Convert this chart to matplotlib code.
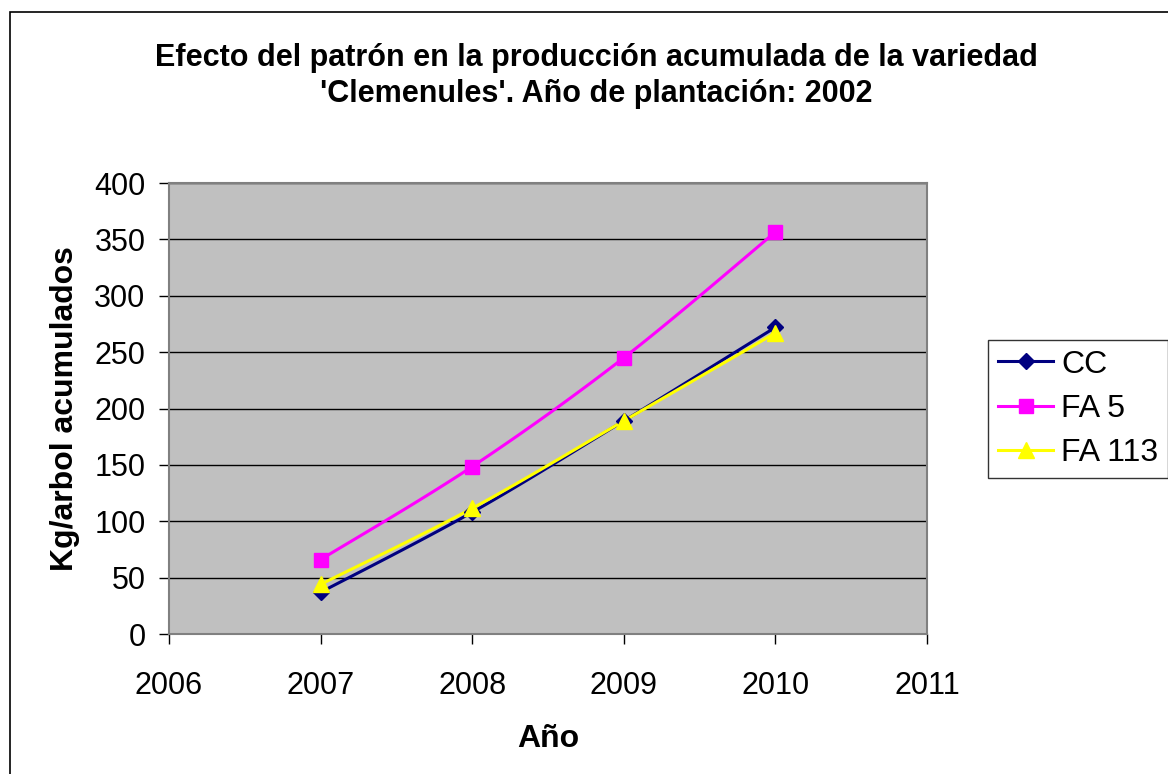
import numpy as np
import matplotlib.pyplot as plt
from matplotlib.patches import Rectangle

plt.rcParams['font.family'] = ['Liberation Sans', 'DejaVu Sans']

years = [2007, 2008, 2009, 2010]
cc = [37, 108, 189, 272]
fa5 = [66, 148.5, 245, 356.5]
fa113 = [44, 111.5, 189, 267]


def smooth(x, y, n=30):
    """Catmull-Rom style smoothing like the spreadsheet's smoothed lines"""
    x = np.asarray(x, float)
    y = np.asarray(y, float)
    px = np.concatenate([[x[0]], x, [x[-1]]])
    py = np.concatenate([[y[0]], y, [y[-1]]])
    xs, ys = [], []
    t = np.linspace(0, 1, n)
    for i in range(1, len(px) - 2):
        p0, p1, p2, p3 = [np.array([px[j], py[j]]) for j in (i - 1, i, i + 1, i + 2)]
        c1 = p1 + (p2 - p0) / 6.0
        c2 = p2 - (p3 - p1) / 6.0
        b = ((1 - t) ** 3)[:, None] * p1 + (3 * (1 - t) ** 2 * t)[:, None] * c1 \
            + (3 * (1 - t) * t ** 2)[:, None] * c2 + (t ** 3)[:, None] * p2
        xs.extend(b[:, 0])
        ys.extend(b[:, 1])
    return xs, ys


fig = plt.figure(figsize=(11.68, 7.74), dpi=100)
fig.patches.append(Rectangle((10 / 1168, -0.01), 1.2, 1 - 12 / 774 + 0.01,
                             transform=fig.transFigure, fill=False,
                             edgecolor='black', linewidth=1.2))

ax = fig.add_axes([169 / 1168, 1 - 634 / 774, (927 - 169) / 1168, (634 - 183) / 774])
ax.set_facecolor('#C0C0C0')
for s in ax.spines.values():
    s.set_color('#808080')
    s.set_linewidth(1.5)

series = [
    ('CC', cc, '#000080', 'D', 8),
    ('FA 5', fa5, '#FF00FF', 's', 10.5),
    ('FA 113', fa113, '#FFFF00', '^', 11),
]
handles = []
for name, vals, col, mk, ms in series:
    sx, sy = smooth(years, vals)
    ax.plot(sx, sy, color=col, linewidth=2.2, zorder=3)
    ax.plot(years, vals, linestyle='none', marker=mk, markersize=ms,
            color=col, markeredgecolor=col, zorder=4)
    h, = ax.plot([], [], color=col, linewidth=2.2, marker=mk, markersize=ms,
                 markeredgecolor=col)
    handles.append((h, name))

ax.set_xlim(2006, 2011)
ax.set_ylim(0, 400)
ax.set_xticks(range(2006, 2012))
ax.set_yticks(range(0, 401, 50))
ax.yaxis.grid(True, color='black', linewidth=1)
ax.set_axisbelow(True)
ax.tick_params(axis='both', direction='out', length=7, width=1, color='black',
               labelsize=22)
ax.tick_params(axis='x', pad=20)
ax.tick_params(axis='y', pad=10)

ax.set_xlabel('Año', fontsize=23, fontweight='bold', labelpad=16)
ax.set_ylabel('Kg/arbol acumulados', fontsize=23, fontweight='bold', labelpad=10)

fig.text(596 / 1168, 1 - 76 / 774, "Efecto del patrón en la producción acumulada de la variedad\n"
         "'Clemenules'. Año de plantación: 2002",
         ha='center', va='center', fontsize=22, fontweight='bold', linespacing=1.27)

leg = fig.legend([h for h, _ in handles], [n for _, n in handles],
                 loc='upper left', bbox_to_anchor=(988 / 1168, 1 - 340 / 774),
                 fontsize=23, frameon=True, fancybox=False, handlelength=1.75,
                 handletextpad=0.25, borderpad=0.3, labelspacing=0.45,
                 borderaxespad=0)
leg.get_frame().set_edgecolor('black')
leg.get_frame().set_linewidth(1)

fig.savefig('out.png', dpi=100)
